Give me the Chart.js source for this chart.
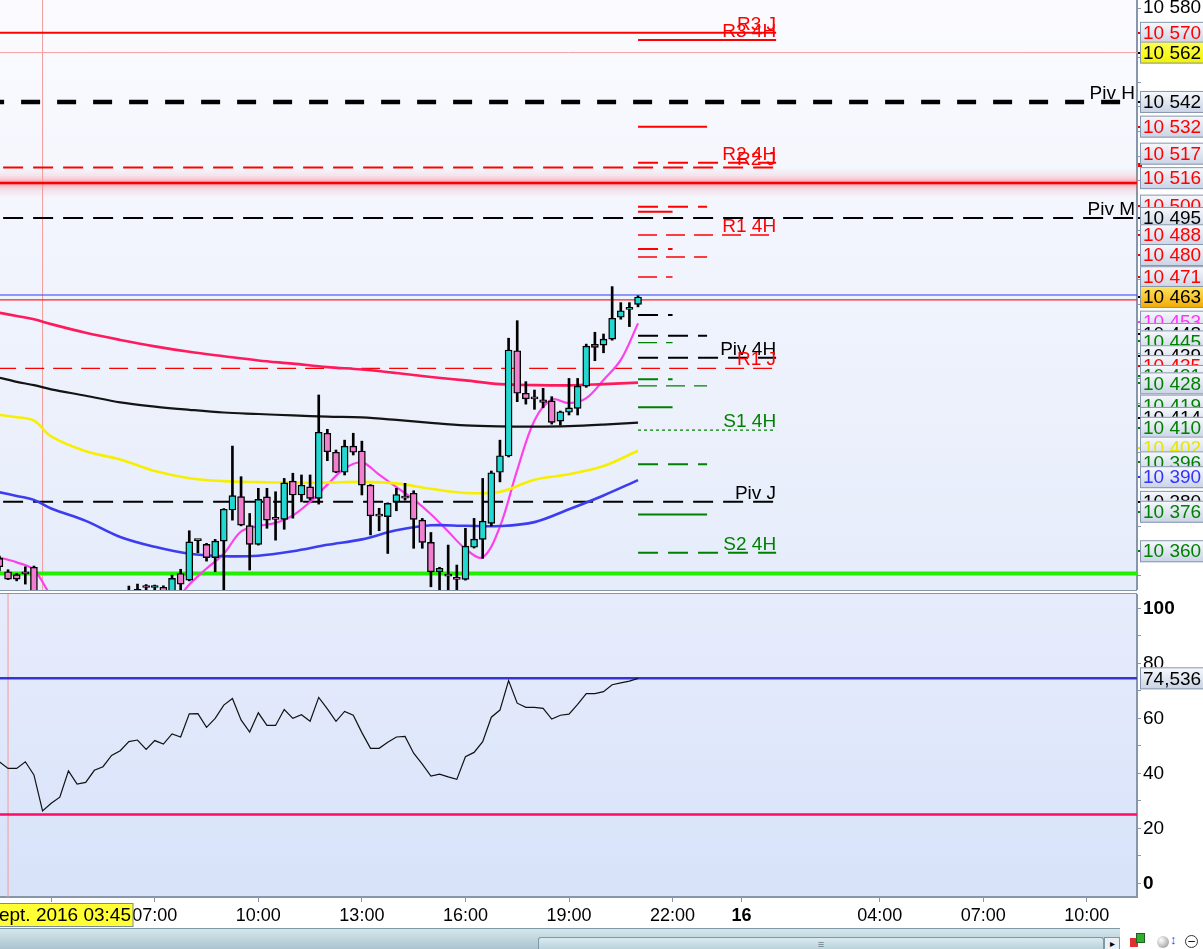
<!DOCTYPE html>
<html>
<head>
<meta charset="utf-8">
<script src="https://cdn.jsdelivr.net/npm/chart.js@4.4.0/dist/chart.umd.min.js"></script>
<style>
  html, body { margin: 0; padding: 0; background: #fff; width: 1203px; height: 949px; overflow: hidden;
               font-family: "Liberation Sans", Arial, sans-serif; }
  #price { position: absolute; left: 0; top: 0; }
  #rsi   { position: absolute; left: 0; top: 594px; }
  .sep   { position: absolute; left: 0; top: 590px; width: 1137px; height: 2px; background: #fff;
           border-top: 1px solid #8796a6; border-bottom: 1px solid #8796a6; }
  #track { position: absolute; left: 0; top: 928px; width: 1120px; height: 21px;
           border-top: 1px solid #7f98a6; background: linear-gradient(#d6e6ec, #a8c2ce); }
  #thumb { position: absolute; left: 538px; top: 937px; width: 564px; height: 12px;
           border: 1px solid #7d98a6; border-bottom: none; border-radius: 3px 3px 0 0;
           background: linear-gradient(#dbeaf0, #b7cfd9); text-align: center; font-size: 11px;
           line-height: 12px; color: #6a8594; }
  #btn   { position: absolute; left: 1104px; top: 937px; width: 14px; height: 12px;
           border: 1px solid #7d98a6; border-bottom: none; background: #e8f0f4; font-size: 10px;
           line-height: 12px; text-align: center; color: #000; }
  .ico   { position: absolute; top: 934px; }
</style>
</head>
<body>
<canvas id="price" width="1203" height="590"></canvas>
<div class="sep"></div>
<canvas id="rsi" width="1203" height="334"></canvas>
<div id="track"></div>
<div id="thumb">&#8801;</div>
<div id="btn">&#9656;</div>
<div class="ico" style="left:1130px;width:8px;height:9px;background:#e03030;top:938px"></div>
<div class="ico" style="left:1136px;width:7px;height:8px;background:#30b030;top:933px;border:1px solid #206020"></div>
<div class="ico" style="left:1157px;width:12px;height:12px;border-radius:50%;background:radial-gradient(circle at 35% 35%,#fff,#8a8a8a);top:936px"></div>
<div class="ico" style="left:1170px;top:933px;font-size:13px;color:#2040ff;line-height:14px">&#8597;</div>
<div class="ico" style="left:1185px;width:11px;height:11px;border-radius:50%;border:1.5px solid #333;top:935px;font-size:12px;line-height:10px;text-align:center;color:#000">&#8211;</div>

<script>
'use strict';

/* ══════════════════════════════════════════
   DATA — 15-minute bars, 15 sept. 2016
══════════════════════════════════════════ */

const candleTimes = [
  '02:30','02:45','03:00','03:15','03:30','03:45','04:00','04:15','04:30','04:45',
  '05:00','05:15','05:30','05:45','06:00','06:15','06:30','06:45','07:00','07:15',
  '07:30','07:45','08:00','08:15','08:30','08:45','09:00','09:15','09:30','09:45',
  '10:00','10:15','10:30','10:45','11:00','11:15','11:30','11:45','12:00','12:15',
  '12:30','12:45','13:00','13:15','13:30','13:45','14:00','14:15','14:30','14:45',
  '15:00','15:15','15:30','15:45','16:00','16:15','16:30','16:45','17:00','17:15',
  '17:30','17:45','18:00','18:15','18:30','18:45','19:00','19:15','19:30','19:45',
  '20:00','20:15','20:30','20:45','21:00'
];

const opens = [
  10357.1, 10351.7, 10350.5, 10351.0, 10353.5, 10340.5, 10320.0, 10324.0, 10326.0, 10334.0,
  10330.0, 10331.0, 10335.0, 10336.0, 10340.0, 10341.0, 10343.0, 10345.8, 10345.3, 10345.4,
  10342.0, 10351.0, 10348.3, 10364.5, 10362.8, 10357.4, 10364.1, 10376.7, 10382.1, 10370.4,
  10362.8, 10382.0, 10373.2, 10372.9, 10388.4, 10382.8, 10386.1, 10381.4, 10407.8, 10400.1,
  10392.0, 10402.6, 10400.6, 10386.8, 10374.5, 10374.0, 10380.0, 10381.8, 10383.5, 10372.6,
  10363.6, 10351.7, 10350.2, 10349.4, 10348.6, 10361.6, 10364.8, 10371.3, 10392.0, 10398.6,
  10441.2, 10424.0, 10422.0, 10421.3, 10420.9, 10412.7, 10416.3, 10417.9, 10426.9, 10443.8,
  10443.5, 10445.9, 10454.8, 10458.0, 10460.0
];

const highs = [
  10358.0, 10352.5, 10351.0, 10353.7, 10354.0, 10341.5, 10326.0, 10328.0, 10335.0, 10335.0,
  10332.5, 10336.0, 10337.5, 10341.0, 10342.5, 10345.9, 10346.7, 10346.5, 10346.3, 10346.0,
  10350.3, 10352.7, 10368.3, 10364.8, 10363.2, 10364.8, 10377.3, 10402.6, 10390.2, 10375.3,
  10385.5, 10385.5, 10384.1, 10389.5, 10391.6, 10390.9, 10390.9, 10423.3, 10409.4, 10401.0,
  10405.0, 10407.8, 10404.6, 10387.0, 10377.4, 10379.6, 10385.5, 10387.5, 10384.5, 10373.3,
  10367.6, 10353.5, 10362.5, 10354.4, 10369.3, 10373.3, 10389.5, 10392.5, 10405.0, 10446.3,
  10453.4, 10428.7, 10425.3, 10426.0, 10422.6, 10416.8, 10430.0, 10430.0, 10443.9, 10448.7,
  10448.0, 10467.2, 10460.7, 10460.7, 10463.5
];

const lows = [
  10352.0, 10348.5, 10348.0, 10346.7, 10339.0, 10318.0, 10316.0, 10321.0, 10325.0, 10329.0,
  10328.0, 10330.0, 10333.0, 10335.0, 10338.0, 10339.0, 10340.0, 10340.0, 10341.0, 10337.0,
  10340.0, 10343.0, 10348.0, 10359.4, 10356.0, 10351.7, 10340.0, 10372.6, 10370.3, 10352.4,
  10362.5, 10369.3, 10364.5, 10368.9, 10373.4, 10380.0, 10380.7, 10379.1, 10396.7, 10391.8,
  10390.9, 10399.0, 10382.8, 10366.6, 10368.3, 10359.1, 10376.4, 10380.7, 10361.2, 10361.2,
  10345.6, 10340.0, 10341.0, 10342.0, 10348.3, 10361.3, 10357.1, 10370.2, 10388.1, 10398.2,
  10420.6, 10419.6, 10417.5, 10418.1, 10411.5, 10411.1, 10415.2, 10415.2, 10426.4, 10437.2,
  10440.4, 10445.5, 10454.0, 10451.0, 10459.0
];

const closes = [
  10353.7, 10348.7, 10348.7, 10350.8, 10340.5, 10320.0, 10324.0, 10326.0, 10334.0, 10330.0,
  10331.0, 10335.0, 10336.0, 10340.0, 10341.0, 10343.0, 10344.6, 10345.3, 10345.6, 10341.0,
  10349.0, 10346.7, 10363.8, 10364.3, 10357.4, 10364.1, 10377.0, 10382.5, 10370.6, 10362.8,
  10381.0, 10372.6, 10372.9, 10387.7, 10382.8, 10386.8, 10381.4, 10408.2, 10400.3, 10392.0,
  10402.6, 10400.1, 10386.8, 10374.3, 10374.2, 10379.4, 10383.0, 10381.5, 10372.9, 10363.6,
  10351.7, 10353.1, 10349.9, 10348.6, 10362.1, 10364.9, 10372.2, 10391.8, 10398.7, 10441.5,
  10424.0, 10421.7, 10421.7, 10420.3, 10412.2, 10416.5, 10418.1, 10426.9, 10443.1, 10442.6,
  10445.9, 10454.4, 10457.4, 10458.7, 10463.0
];

const rsiValues = [
  44.2, 41.8, 41.8, 44.2, 39.4, 26.3, 29.1, 31.3, 40.9, 36.1,
  36.7, 41.1, 42.4, 46.5, 48.2, 51.5, 52.1, 48.7, 51.9, 50.6,
  54.3, 53.2, 61.6, 61.7, 56.7, 60.0, 64.8, 67.2, 59.4, 55.0,
  62.0, 57.4, 57.4, 63.2, 60.0, 61.3, 58.9, 67.6, 63.4, 58.9,
  62.5, 61.1, 54.8, 49.1, 49.1, 51.3, 53.2, 53.4, 47.3, 43.3,
  39.0, 39.7, 38.7, 37.8, 46.0, 47.6, 51.5, 60.4, 63.0, 73.7,
  65.5, 64.0, 64.0, 63.6, 59.7, 61.1, 61.5, 65.1, 69.0, 69.0,
  69.7, 72.2, 72.9, 73.5, 74.5
];
const rsiCurrent = 74.536;
const rsiLow     = 25;

/* moving averages */
const maTimes = ['02:30','03:00','03:30','04:00','05:00','06:00','07:00','08:00','09:00','10:00','11:00',
                 '12:00','13:00','14:00','15:00','16:00','17:00','18:00','19:00','20:00','21:00'];
const maRed    = [10456.6, 10455.3, 10454.0, 10452.0, 10448.5, 10445.6, 10443.0, 10440.8, 10439.0, 10437.3, 10436.0,
                  10434.6, 10433.6, 10432.2, 10430.6, 10429.2, 10427.7, 10427.3, 10427.2, 10427.7, 10428.3];
const maBlack  = [10430.3, 10428.6, 10427.3, 10425.6, 10423.0, 10420.3, 10418.6, 10417.3, 10416.2, 10415.6, 10415.0,
                  10414.5, 10414.2, 10413.2, 10412.0, 10411.0, 10410.6, 10410.5, 10410.7, 10411.3, 10412.1];
const maYellow = [10415.2, 10414.3, 10412.9, 10406.5, 10400.5, 10397.2, 10392.5, 10389.6, 10388.4, 10388.0, 10387.8,
                  10387.8, 10388.1, 10387.5, 10385.3, 10383.6, 10384.1, 10389.0, 10391.2, 10394.5, 10400.7];
const maBlue   = [10383.9, 10382.4, 10380.8, 10377.3, 10372.3, 10365.8, 10361.8, 10359.0, 10358.0, 10358.2, 10360.0,
                  10362.6, 10364.8, 10368.5, 10370.5, 10370.3, 10370.2, 10371.8, 10377.0, 10382.6, 10388.8];

const fastTimes = ['02:30','03:00','03:30','04:00','04:30','05:00','05:30','06:00','06:30','07:00',
                   '07:30','08:00','08:30','09:00','09:30','10:00','10:30','11:00','11:30','12:00',
                   '12:30','13:00','13:30','14:00','14:30','15:00','15:30','16:00','16:30','17:00',
                   '17:30','18:00','18:30','19:00','19:30','20:00','20:30','21:00'];
const maFast = [10357.5, 10355.5, 10352.5, 10342.0, 10336.0, 10331.0, 10328.0, 10327.0, 10329.0, 10333.0,
                10338.0, 10346.5, 10353.0, 10359.0, 10368.0, 10370.2, 10371.5, 10374.5, 10380.0, 10387.0,
                10393.5, 10396.0, 10391.0, 10386.0, 10381.0, 10375.0, 10368.0, 10361.0, 10357.5, 10370.0,
                10392.9, 10413.0, 10421.5, 10420.0, 10422.0, 10429.4, 10437.5, 10452.3];

/* pivot / alert levels: value, span (hours from 15 sept 00:00), kind, tag */
const levelValues = [10570, 10567.1, 10562, 10542, 10532, 10517.4, 10515.4, 10509.2, 10499.5, 10497.5,
                     10495, 10488.1, 10482.4, 10479.2, 10471.1, 10463.8, 10461.8, 10455.7, 10447.3, 10444.5,
                     10438.4, 10434.1, 10429.7, 10427.0, 10418.3, 10409.1, 10395.2, 10380, 10374.9, 10359.4,
                     10351];
const levelFrom   = [0, 21, 0, 0, 21, 21, 0, 0, 21, 21,
                     0, 21, 21, 21, 21, 0, 0, 21, 21, 21,
                     21, 0, 21, 21, 21, 21, 21, 0, 21, 21,
                     0];
const levelTo     = [25, 25, 40, 40, 23, 25, 25, 40, 23, 22,
                     40, 25, 22, 23, 22, 40, 40, 22, 23, 22,
                     25, 25, 22, 23, 22, 25, 23, 25, 23, 25,
                     40];
const levelKinds  = ['redSolid','redSolid','pinkThin','blackWide','redSolid','redDash','redDash','redGlow','redDash','redSolid',
                     'blackDash','redThin','redDash','redThin','redThin','blueLine','redLine','blackDash','blackDash','greenThin',
                     'blackDash','redThin','greenDash','greenThin','greenSolid','greenDot','greenDash','blackDash','greenSolid','greenDash',
                     'lime'];
const levelTags   = ['R3 J','R3 4H','','Piv H','','R2 4H','R2 J','','','',
                     'Piv M','R1 4H','','','','','','','','',
                     'Piv 4H','R1 J','','','','S1 4H','','Piv J','','S2 4H',
                     ''];

/* price labels stacked on the right axis */
const axisLabelValues = [10570, 10562, 10542, 10532, 10517, 10516, 10500, 10495, 10488, 10480,
                         10471, 10463, 10453, 10448, 10445, 10439, 10435, 10431, 10428, 10419,
                         10414, 10410, 10402, 10396, 10390, 10380, 10376, 10360];
const axisLabelKinds  = ['red','mark','black','red','red','red','red','black','red','red',
                         'red','current','magenta','black','green','black','red','green','green','green',
                         'black','green','yellow','green','blue','black','green','green'];

const timeTicks = [4, 7, 10, 13, 16, 19, 22, 24, 28, 31, 34];
const rsiTicks  = [0, 10, 20, 30, 40, 50, 60, 70, 80, 90, 100];
const cursorTime = '03:45';
const cursorDate = '15 sept. 2016';

/* ══════════════════════════════════════════
   SETTINGS
══════════════════════════════════════════ */

const X_MIN = 2.517, X_MAX = 35.454;
const P_MIN = 10344.3, P_MAX = 10583.3;
const FONT = '"Liberation Sans", Arial, sans-serif';
const AXIS_GREY = '#8796a8';

const LEVEL_STYLE = {
  redSolid:   { color: '#ff0000', width: 2,   dash: [] },
  redDash:    { color: '#ff0000', width: 2,   dash: [20, 10] },
  redThin:    { color: '#ff0000', width: 1.3, dash: [19, 9] },
  blackWide:  { color: '#000000', width: 4.5, dash: [19, 17] },
  blackDash:  { color: '#000000', width: 2,   dash: [20, 10] },
  greenDash:  { color: '#008000', width: 2,   dash: [20, 10] },
  greenThin:  { color: '#008000', width: 1.3, dash: [19, 9] },
  greenSolid: { color: '#008000', width: 2,   dash: [] },
  greenDot:   { color: '#008000', width: 1.3, dash: [3, 3] },
  pinkThin:   { color: '#f2a0a0', width: 1,   dash: [] },
  redGlow:    { color: '#ff0000', width: 2.5, dash: [], glow: true },
  blueLine:   { color: '#2a3cff', width: 1.2, dash: [] },
  redLine:    { color: '#ff2020', width: 1.2, dash: [] },
  lime:       { color: '#22ee00', width: 4,   dash: [] }
};

/* soft halo around the alert line: [width, colour] */
const GLOW_LAYERS = [[28, 'rgba(255,120,140,0.03)'], [24, 'rgba(255,110,130,0.04)'],
                     [19, 'rgba(255,90,110,0.05)'], [14, 'rgba(255,70,90,0.07)'],
                     [9, 'rgba(255,50,70,0.10)'], [5, 'rgba(255,30,50,0.16)']];

const LABEL_STYLE = {
  red:     { text: '#ff0000' },
  black:   { text: '#000000' },
  green:   { text: '#008000' },
  blue:    { text: '#3333ff' },
  magenta: { text: '#ff33ff' },
  yellow:  { text: '#e6e600' },
  mark:    { text: '#000000', top: '#ffff55', bottom: '#f2f200' },
  current: { text: '#000000', top: '#ffe566', bottom: '#f2aa00' }
};

function toHours(t) {
  const [h, m] = t.split(':').map(Number);
  return h + m / 60;
}

function fmtPrice(v) {
  return Math.round(v).toString().replace(/\B(?=(\d{3})+(?!\d))/g, ' ');
}

function hhmm(h) {
  const hh = Math.floor(h) % 24;
  return (hh < 10 ? '0' : '') + hh + ':00';
}

Chart.defaults.font.family = FONT;
Chart.defaults.color = '#000';
Chart.defaults.animation = false;

/* ══════════════════════════════════════════
   PLUGINS
══════════════════════════════════════════ */

function fillPanel(chart, c0, c1) {
  const { ctx, chartArea: a } = chart;
  const g = ctx.createLinearGradient(0, a.top, 0, a.bottom);
  g.addColorStop(0, c0);
  g.addColorStop(1, c1);
  ctx.save();
  ctx.fillStyle = g;
  ctx.fillRect(a.left, a.top, a.right - a.left, a.bottom - a.top);
  ctx.restore();
}

function drawAxisBox(ctx, yc, text, style) {
  const h = 22, top = yc - h / 2;
  const g = ctx.createLinearGradient(0, top, 0, top + h);
  g.addColorStop(0, style.top || '#f7f9fd');
  g.addColorStop(1, style.bottom || '#c9d3e5');
  ctx.fillStyle = g;
  ctx.fillRect(1140, top, 64, h);
  ctx.strokeStyle = '#8797ad';
  ctx.lineWidth = 1;
  ctx.strokeRect(1140.5, top + 0.5, 64, h - 1);
  ctx.fillStyle = style.text;
  ctx.textAlign = 'left';
  ctx.textBaseline = 'middle';
  ctx.fillText(text, 1143, yc + 1);
}

const priceDecor = {
  id: 'priceDecor',
  beforeDraw(chart) {
    fillPanel(chart, '#fbfbff', '#e5ecfa');
  },
  afterDraw(chart) {
    const { ctx, chartArea: a } = chart;
    const xs = chart.scales.x, ys = chart.scales.y;
    ctx.save();

    /* tags next to the pivot lines */
    ctx.font = '19px ' + FONT;
    ctx.textAlign = 'right';
    ctx.textBaseline = 'alphabetic';
    levelTags.forEach((tag, i) => {
      if (!tag) return;
      const y = ys.getPixelForValue(levelValues[i]);
      const xr = levelTo[i] >= X_MAX ? a.right - 2 : xs.getPixelForValue(levelTo[i]);
      ctx.fillStyle = tag[0] === 'R' ? '#ff0000' : tag[0] === 'S' ? '#008000' : '#000';
      ctx.fillText(tag, xr, y - 3);
    });

    /* stacked price labels on the axis */
    const placed = axisLabelValues.map(v => ({ v, y: ys.getPixelForValue(v) }));
    for (let i = 1; i < placed.length; i++) {
      if (placed[i].y - placed[i - 1].y < 4) {
        placed[i - 1].y -= 10;
        placed[i].y += 12;
      }
    }
    placed.forEach((p, i) => {
      const st = LABEL_STYLE[axisLabelKinds[i]];
      ctx.fillStyle = st.text;
      ctx.fillRect(1138, Math.round(ys.getPixelForValue(p.v)) - 1, 4, 2);
      drawAxisBox(ctx, p.y, fmtPrice(p.v), st);
    });
    ctx.restore();
  }
};

const rsiDecor = {
  id: 'rsiDecor',
  beforeDraw(chart) {
    fillPanel(chart, '#e7ecfc', '#d7e2f9');
  },
  afterDraw(chart) {
    const { ctx, chartArea: a } = chart;
    const ys = chart.scales.y;
    ctx.save();
    ctx.font = '19px ' + FONT;
    drawAxisBox(ctx, ys.getPixelForValue(rsiCurrent), rsiCurrent.toFixed(3).replace('.', ','), { text: '#000' });

    /* cursor date box under the time axis */
    const top = a.bottom + 6;
    ctx.fillStyle = '#ffff33';
    ctx.fillRect(0, top, 133, 24);
    ctx.strokeStyle = '#7b8b9b';
    ctx.lineWidth = 1;
    ctx.strokeRect(-1, top + 0.5, 134, 23);
    ctx.fillStyle = '#000';
    ctx.font = '19px ' + FONT;
    ctx.textAlign = 'right';
    ctx.textBaseline = 'middle';
    ctx.fillText(cursorDate + ' ' + cursorTime, 131, top + 13);
    ctx.restore();
  }
};

/* ══════════════════════════════════════════
   PRICE CHART
══════════════════════════════════════════ */

const candleX = candleTimes.map(toHours);
const priceSets = [];

levelValues.forEach((v, i) => {
  const st = LEVEL_STYLE[levelKinds[i]];
  const pts = [{ x: levelFrom[i], y: v }, { x: levelTo[i], y: v }];
  if (st.glow) {
    GLOW_LAYERS.forEach(([w, c], j) => {
      priceSets.push({ type: 'line', data: pts, borderColor: c, borderWidth: w,
                       pointRadius: 0, order: 50 - j, clip: 0 });
    });
  }
  priceSets.push({
    type: 'line', data: pts, borderColor: st.color, borderWidth: st.width, borderDash: st.dash,
    borderCapStyle: 'butt', pointRadius: 0, order: 40, clip: 0
  });
});

/* cursor line */
priceSets.push({ type: 'line', data: [{ x: toHours(cursorTime), y: P_MIN - 10 }, { x: toHours(cursorTime), y: P_MAX + 10 }],
                 borderColor: '#f29a9a', borderWidth: 1, pointRadius: 0, order: 42, clip: 0 });

function maSet(times, values, color, width) {
  return {
    type: 'line', data: times.map((t, i) => ({ x: toHours(t), y: values[i] })),
    borderColor: color, borderWidth: width, pointRadius: 0, tension: 0.35, order: 30, clip: 0
  };
}
priceSets.push(maSet(maTimes, maRed,    '#ff1a5e', 2.6));
priceSets.push(maSet(maTimes, maBlack,  '#141414', 2.2));
priceSets.push(maSet(maTimes, maYellow, '#f6f000', 2.6));
priceSets.push(maSet(maTimes, maBlue,   '#3d3df0', 2.6));
priceSets.push(maSet(fastTimes, maFast, '#ff40ea', 2.2));

/* wicks then bodies */
priceSets.push({
  type: 'bar', grouped: false, order: 20,
  data: candleX.map((x, i) => ({ x, y: [lows[i], highs[i]] })),
  backgroundColor: '#000', borderWidth: 0, barThickness: 2
});
priceSets.push({
  type: 'bar', grouped: false, order: 10,
  data: candleX.map((x, i) => ({ x, y: [opens[i], closes[i]] })),
  backgroundColor: closes.map((c, i) => (c >= opens[i] ? '#22d8d0' : '#f07fcf')),
  borderColor: '#000', borderWidth: 1.4, borderSkipped: false, barThickness: 7, minBarLength: 2
});

new Chart(document.getElementById('price'), {
  type: 'bar',
  data: { datasets: priceSets },
  options: {
    responsive: false,
    layout: { padding: 0 },
    plugins: { legend: { display: false }, tooltip: { enabled: false } },
    scales: {
      x: { type: 'linear', min: X_MIN, max: X_MAX, display: false, offset: false },
      y: {
        type: 'linear', position: 'right', min: P_MIN, max: P_MAX,
        afterFit(s) { s.width = 66; s.paddingTop = 0; s.paddingBottom = 0; },
        afterBuildTicks(s) {
          const t = [];
          for (let v = 10350; v <= 10580; v += 10) t.push({ value: v });
          s.ticks = t;
        },
        ticks: { callback: v => (v === 10580 ? fmtPrice(v) : ''), autoSkip: false, padding: 2,
                 font: { size: 19 }, color: '#000' },
        grid: { drawOnChartArea: false, tickLength: 4, color: AXIS_GREY },
        border: { color: AXIS_GREY, width: 2 }
      }
    }
  },
  plugins: [priceDecor]
});

/* ══════════════════════════════════════════
   RSI CHART
══════════════════════════════════════════ */

const rsiSets = [
  { data: candleX.map((x, i) => ({ x, y: rsiValues[i] })), borderColor: '#111', borderWidth: 1.2,
    pointRadius: 0, tension: 0, order: 10 },
  { data: [{ x: 0, y: rsiCurrent }, { x: 40, y: rsiCurrent }], borderColor: '#3434d8', borderWidth: 2.5,
    pointRadius: 0, order: 20, clip: 0 },
  { data: [{ x: 0, y: rsiLow }, { x: 40, y: rsiLow }], borderColor: '#ff0a64', borderWidth: 2.5,
    pointRadius: 0, order: 20, clip: 0 },
  { data: [{ x: 2.75, y: -10 }, { x: 2.75, y: 110 }], borderColor: '#f29a9a', borderWidth: 1,
    pointRadius: 0, order: 30, clip: 0 }
];

new Chart(document.getElementById('rsi'), {
  type: 'line',
  data: { datasets: rsiSets },
  options: {
    responsive: false,
    layout: { padding: 0 },
    plugins: { legend: { display: false }, tooltip: { enabled: false } },
    scales: {
      x: {
        type: 'linear', min: X_MIN, max: X_MAX, offset: false,
        afterFit(s) { s.height = 31; s.paddingLeft = 0; s.paddingRight = 0; },
        afterBuildTicks(s) { s.ticks = timeTicks.map(v => ({ value: v })); },
        ticks: {
          callback: v => (v === 24 ? '16' : hhmm(v)),
          autoSkip: false, maxRotation: 0, padding: 3, color: '#000',
          font: ctx => ({ size: 18, weight: ctx.tick && ctx.tick.value === 24 ? 'bold' : 'normal' })
        },
        grid: { drawOnChartArea: false, tickLength: 5, color: AXIS_GREY },
        border: { color: AXIS_GREY, width: 2 }
      },
      y: {
        type: 'linear', position: 'right', min: -4.98, max: 105.2,
        afterFit(s) { s.width = 66; s.paddingTop = 0; s.paddingBottom = 0; },
        afterBuildTicks(s) { s.ticks = rsiTicks.map(v => ({ value: v })); },
        ticks: {
          callback: v => (v % 20 === 0 ? String(v) : ''), autoSkip: false, padding: 2, color: '#000',
          font: ctx => ({ size: 19, weight: ctx.tick && (ctx.tick.value === 0 || ctx.tick.value === 100) ? 'bold' : 'normal' })
        },
        grid: { drawOnChartArea: false, tickLength: 4, color: AXIS_GREY },
        border: { color: AXIS_GREY, width: 2 }
      }
    }
  },
  plugins: [rsiDecor]
});
</script>
</body>
</html>
